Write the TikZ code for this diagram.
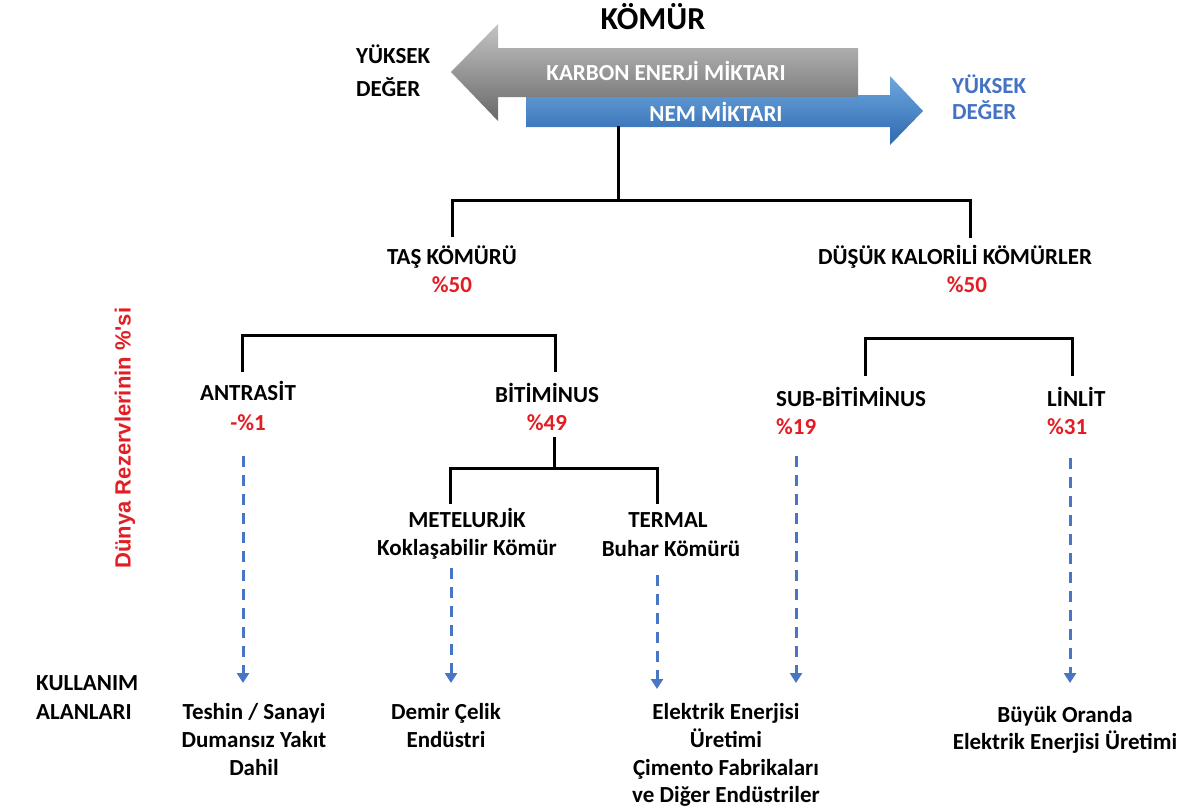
\documentclass[tikz,border=0pt]{standalone}
\usepackage{fontspec}
\setmainfont{Carlito}
\newfontfamily\arialf{Liberation Sans}
\usetikzlibrary{arrows.meta}
\definecolor{redt}{RGB}{226,30,36}
\definecolor{bluet}{RGB}{68,114,196}
\definecolor{dashc}{RGB}{72,118,196}
\begin{document}
\begin{tikzpicture}[x=1pt,y=-1pt,
  lbl/.style={font=\fontsize{23}{28}\selectfont\bfseries, inner sep=0pt, anchor=base},
  pct/.style={lbl, text=redt},
  tree/.style={line width=3pt, line join=miter, line cap=rect},
  usearrow/.style={line width=3pt, draw=dashc, dash pattern=on 11pt off 8pt,
     -{Triangle[width=12pt,length=10pt,fill=dashc]}}]
\useasboundingbox (0,0) rectangle (1190,807);

% title
\node[lbl, font=\fontsize{32}{36}\selectfont\bfseries] (title) at (653,29) {KÖMÜR};

% arrows
\path[top color={rgb,255:red,110;green,168;blue,222}, bottom color={rgb,255:red,46;green,104;blue,176}]
  (526,95) -- (890,95) -- (890,76) -- (923,111) -- (890,145) -- (890,127) -- (526,127) -- cycle;
\path[top color={rgb,255:red,196;green,196;blue,196}, bottom color={rgb,255:red,104;green,104;blue,104}]
  (451,72) -- (498,24) -- (498,48) -- (858,48) -- (858,97) -- (498,97) -- (498,121) -- cycle;
\node[lbl, text=white] (karbon) at (666,80) {KARBON ENERJİ MİKTARI};
\node[lbl, text=white] (nem) at (716,121) {NEM MİKTARI};

\node[lbl, anchor=base west] (yk1) at (356,63) {YÜKSEK};
\node[lbl, anchor=base west] (yd1) at (356,96) {DEĞER};
\node[lbl, anchor=base west, text=bluet] (yk2) at (952,93) {YÜKSEK};
\node[lbl, anchor=base west, text=bluet] (yd2) at (952,119) {DEĞER};

% level 1
\node[lbl] (tas) at (452,264) {TAŞ KÖMÜRÜ};
\node[pct] (tasp) at (452,292) {\%50};
\node[lbl] (dus) at (955,264) {DÜŞÜK KALORİLİ KÖMÜRLER};
\node[pct] (dusp) at (967,292) {\%50};

% level 2
\node[lbl] (ant) at (248,400) {ANTRASİT};
\node[pct] (antp) at (248,430) {-\%1};
\node[lbl] (bit) at (547,402) {BİTİMİNUS};
\node[pct] (bitp) at (547,430) {\%49};
\node[lbl, anchor=base west] (sub) at (776,406) {SUB-BİTİMİNUS};
\node[pct, anchor=base west] (subp) at (776,434) {\%19};
\node[lbl, anchor=base west] (lin) at (1047,406) {LİNLİT};
\node[pct, anchor=base west] (linp) at (1047,434) {\%31};

% level 3
\node[lbl] (met) at (467,527) {METELURJİK};
\node[lbl] (met2) at (467,555) {Koklaşabilir Kömür};
\node[lbl] (ter) at (668,527) {TERMAL};
\node[lbl] (ter2) at (671,556) {Buhar Kömürü};

% side labels
\node[font=\arialf\bfseries\fontsize{22}{26}\selectfont, text=redt, rotate=90, inner sep=0pt] (dunya) at (125,438) {Dünya Rezervlerinin \%'si};
\node[lbl, anchor=base west] (kul1) at (36,690) {KULLANIM};
\node[lbl, anchor=base west] (kul2) at (36,719) {ALANLARI};

% usage
\node[lbl] (u1a) at (254,719) {Teshin / Sanayi};
\node[lbl] (u1b) at (254,747) {Dumansız Yakıt};
\node[lbl] (u1c) at (254,775) {Dahil};
\node[lbl] (u2a) at (446,719) {Demir Çelik};
\node[lbl] (u2b) at (446,747) {Endüstri};
\node[lbl] (u3a) at (726,719) {Elektrik Enerjisi};
\node[lbl] (u3b) at (726,747) {Üretimi};
\node[lbl] (u3c) at (726,775) {Çimento Fabrikaları};
\node[lbl] (u3d) at (726,802) {ve Diğer Endüstriler};
\node[lbl] (u4a) at (1065,722) {Büyük Oranda};
\node[lbl] (u4b) at (1065,749) {Elektrik Enerjisi Üretimi};

% tree coordinates
\coordinate (r0) at (618,127);
\coordinate (r1) at (618,200);
\coordinate (hL) at (452,200); \coordinate (hLd) at (452,235);
\coordinate (hR) at (970,200); \coordinate (hRd) at (970,236);
\coordinate (aL) at (242,335); \coordinate (aLd) at (242,370);
\coordinate (aR) at (555,335); \coordinate (aRd) at (555,370);
\coordinate (bL) at (865,338); \coordinate (bLd) at (865,374);
\coordinate (bR) at (1072,338); \coordinate (bRd) at (1072,374);
\coordinate (c0) at (554,438); \coordinate (c1) at (554,468);
\coordinate (cL) at (450,468); \coordinate (cLd) at (450,502);
\coordinate (cR) at (657,468); \coordinate (cRd) at (657,502);

\draw[tree] (r0) -- (r1);
\draw[tree] (hLd) -- (hL) -- (hR) -- (hRd);
\draw[tree] (aLd) -- (aL) -- (aR) -- (aRd);
\draw[tree] (bLd) -- (bL) -- (bR) -- (bRd);
\draw[tree] (c0) -- (c1);
\draw[tree] (cLd) -- (cL) -- (cR) -- (cRd);

% usage arrows
\coordinate (d1s) at (243,456); \coordinate (d1e) at (243,683);
\coordinate (d2s) at (451,568); \coordinate (d2e) at (451,683);
\coordinate (d3s) at (657,575); \coordinate (d3e) at (657,689);
\coordinate (d4s) at (796,456); \coordinate (d4e) at (796,683);
\coordinate (d5s) at (1070,458); \coordinate (d5e) at (1070,683);
\draw[usearrow] (d1s) -- (d1e);
\draw[usearrow] (d2s) -- (d2e);
\draw[usearrow] (d3s) -- (d3e);
\draw[usearrow] (d4s) -- (d4e);
\draw[usearrow] (d5s) -- (d5e);
\end{tikzpicture}
\end{document}
